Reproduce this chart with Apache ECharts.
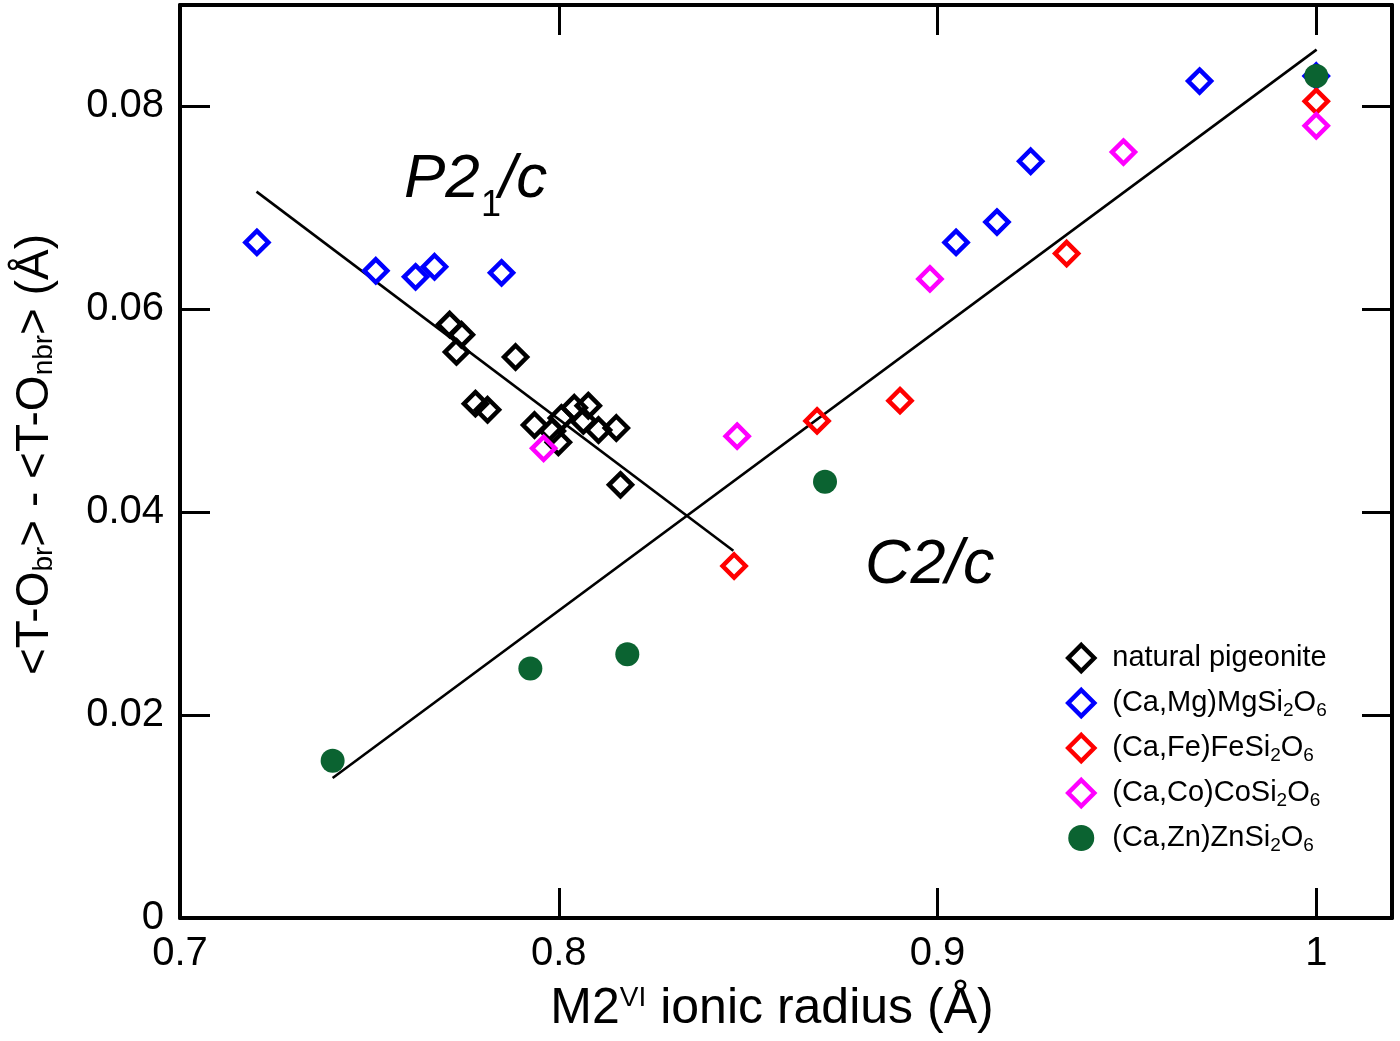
<!DOCTYPE html>
<html><head><meta charset="utf-8">
<script src="https://cdn.jsdelivr.net/npm/echarts@6/dist/echarts.min.js"></script>
<style>html,body{margin:0;padding:0;background:#fff}#c{width:1400px;height:1041px}</style>
</head><body><div id="c"></div>
<script>
// Tick values
const xTicks = [0.7, 0.8, 0.9, 1];
const yTicks = [0, 0.02, 0.04, 0.06, 0.08];

// Series names
const seriesNames = ['natural pigeonite', '(Ca,Mg)MgSi2O6', '(Ca,Fe)FeSi2O6', '(Ca,Co)CoSi2O6', '(Ca,Zn)ZnSi2O6'];

// natural pigeonite
const pigeoniteX = [0.7712, 0.7743, 0.7730, 0.7886, 0.7780, 0.7812, 0.7936, 0.7983, 0.7999, 0.8007, 0.8041, 0.8078, 0.8065, 0.8105, 0.8152, 0.8163];
const pigeoniteY = [0.0585, 0.0575, 0.0558, 0.0553, 0.0507, 0.0501, 0.0486, 0.0480, 0.0469, 0.0493, 0.0503, 0.0505, 0.0490, 0.0481, 0.0483, 0.0427];
// (Ca,Mg)MgSi2O6
const mgX = [0.7203, 0.7517, 0.7622, 0.7672, 0.7849, 0.9049, 0.9157, 0.9246, 0.9692, 1.0];
const mgY = [0.0666, 0.0638, 0.0632, 0.0642, 0.0636, 0.0666, 0.0686, 0.0746, 0.0825, 0.0830];
// (Ca,Fe)FeSi2O6
const feX = [0.8463, 0.8682, 0.8901, 0.9341, 1.0];
const feY = [0.0347, 0.0490, 0.0510, 0.0655, 0.0805];
// (Ca,Co)CoSi2O6
const coX = [0.7960, 0.8471, 0.8980, 0.9491, 1.0];
const coY = [0.0463, 0.0475, 0.0630, 0.0755, 0.0781];
// (Ca,Zn)ZnSi2O6
const znX = [0.7403, 0.7925, 0.8181, 0.8703, 1.0];
const znY = [0.0155, 0.0246, 0.0260, 0.0430, 0.0830];
// fit lines
const p21cFitX = [0.7202, 0.8461];
const p21cFitY = [0.0716, 0.0362];
const c2cFitX = [0.7403, 1.0001];
const c2cFitY = [0.0138, 0.0856];

const zip = (xs, ys) => xs.map((x, i) => [x, ys[i]]);
const FONT = 'Liberation Sans, Arial, sans-serif';

const chart = echarts.init(document.getElementById('c'), null, {renderer: 'canvas'});

function hollow(name, xs, ys, color) {
  return {
    name: name, type: 'scatter', data: zip(xs, ys), symbol: 'diamond', symbolSize: 23,
    itemStyle: {color: 'rgba(0,0,0,0)', borderColor: color, borderWidth: 4.5, opacity: 1},
    emphasis: {disabled: true}, z: 3
  };
}
function fitLine(xs, ys) {
  return {
    type: 'line', data: zip(xs, ys), showSymbol: false, symbol: 'none',
    lineStyle: {color: '#000', width: 2.6}, silent: true, z: 2
  };
}

const subMap = {
  '(Ca,Mg)MgSi2O6': '(Ca,Mg)MgSi{sub|2}O{sub|6}',
  '(Ca,Fe)FeSi2O6': '(Ca,Fe)FeSi{sub|2}O{sub|6}',
  '(Ca,Co)CoSi2O6': '(Ca,Co)CoSi{sub|2}O{sub|6}',
  '(Ca,Zn)ZnSi2O6': '(Ca,Zn)ZnSi{sub|2}O{sub|6}'
};

const axisLine = {show: true, onZero: false, lineStyle: {color: '#000', width: 4}};
const axisTick = {show: true, inside: true, length: 30, lineStyle: {color: '#000', width: 3}};

const option = {
  animation: false,
  backgroundColor: '#fff',
  grid: {left: 180, right: 8, top: 5, bottom: 123},
  legend: {
    data: seriesNames, orient: 'vertical', left: 1066, top: 641, padding: 0,
    itemWidth: 26, itemHeight: 26, itemGap: 11,
    formatter: n => subMap[n] || n,
    textStyle: {
      fontFamily: FONT, fontSize: 29, color: '#000', lineHeight: 34, padding: [0, 0, 0, 13],
      rich: {sub: {fontFamily: FONT, fontSize: 19, lineHeight: 6, verticalAlign: 'bottom'}}
    },
    itemStyle: {borderWidth: 4.5},
    selectedMode: false
  },
  xAxis: [{
    type: 'value', position: 'bottom', min: 0.7, max: 1.02, interval: 0.1,
    axisLine: axisLine, axisTick: axisTick, splitLine: {show: false},
    axisLabel: {
      fontFamily: FONT, fontSize: 40, color: '#000', margin: 16, showMaxLabel: false,
      formatter: v => xTicks.some(t => Math.abs(t - v) < 1e-6) ? String(+v.toFixed(1)) : ''
    },
    name: 'M2{sup|VI} ionic radius (Å)', nameLocation: 'middle', nameGap: 66,
    nameTextStyle: {
      fontFamily: FONT, fontSize: 50, color: '#000', lineHeight: 50, padding: [0, 28, 0, 0],
      rich: {sup: {fontFamily: FONT, fontSize: 28, lineHeight: 40, verticalAlign: 'top'}}
    }
  }, {
    type: 'value', position: 'top', min: 0.7, max: 1.02, interval: 0.1,
    axisLine: axisLine, axisTick: axisTick, axisLabel: {show: false}, splitLine: {show: false}
  }],
  yAxis: [{
    type: 'value', position: 'left', min: 0, max: 0.09, interval: 0.02,
    axisLine: axisLine, axisTick: axisTick, splitLine: {show: false},
    axisLabel: {
      fontFamily: FONT, fontSize: 40, color: '#000', margin: 16, showMaxLabel: false,
      formatter: v => yTicks.some(t => Math.abs(t - v) < 1e-9) ? (Math.abs(v) < 1e-9 ? '0' : v.toFixed(2)) : ''
    },
    name: '<T-O{sub|br}> - <T-O{sub|nbr}> (Å)', nameLocation: 'middle', nameGap: 122, nameRotate: 90,
    nameTextStyle: {
      fontFamily: FONT, fontSize: 46, color: '#000', lineHeight: 46, padding: [0, 0, 0, 14],
      rich: {sub: {fontFamily: FONT, fontSize: 28, lineHeight: 14, verticalAlign: 'bottom'}}
    }
  }, {
    type: 'value', position: 'right', min: 0, max: 0.09, interval: 0.02,
    axisLine: axisLine, axisTick: axisTick, axisLabel: {show: false}, splitLine: {show: false}
  }],
  series: [
    fitLine(p21cFitX, p21cFitY),
    fitLine(c2cFitX, c2cFitY),
    hollow(seriesNames[0], pigeoniteX, pigeoniteY, '#000000'),
    hollow(seriesNames[1], mgX, mgY, '#0000ff'),
    hollow(seriesNames[2], feX, feY, '#ff0000'),
    hollow(seriesNames[3], coX, coY, '#ff00ff'),
    {
      name: seriesNames[4], type: 'scatter', data: zip(znX, znY), symbol: 'circle', symbolSize: 24,
      itemStyle: {color: '#0b6331', opacity: 1}, emphasis: {disabled: true}, z: 4
    }
  ],
  graphic: [
    {type: 'text', x: 404, y: 180, style: {text: 'P2', font: 'italic 62px ' + FONT, fill: '#000', verticalAlign: 'middle'}},
    {type: 'text', x: 481, y: 206, style: {text: '1', font: '36px ' + FONT, fill: '#000', verticalAlign: 'middle'}},
    {type: 'text', x: 499, y: 180, style: {text: '/c', font: 'italic 62px ' + FONT, fill: '#000', verticalAlign: 'middle'}},
    {type: 'text', x: 865, y: 565, style: {text: 'C2/c', font: 'italic 63px ' + FONT, fill: '#000', verticalAlign: 'middle'}}
  ]
};
chart.setOption(option);
</script>
</body></html>
